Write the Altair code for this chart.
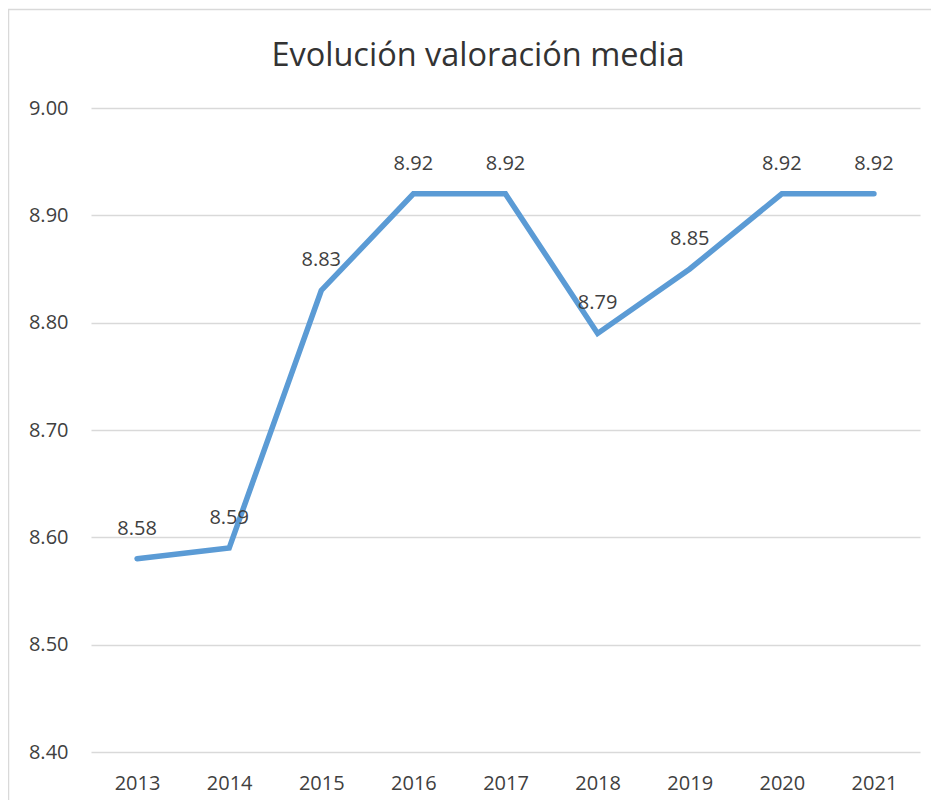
import altair as alt
import pandas as pd

years = ["2013", "2014", "2015", "2016", "2017", "2018", "2019", "2020", "2021"]
values = [8.58, 8.59, 8.83, 8.92, 8.92, 8.79, 8.85, 8.92, 8.92]
y_ticks = [8.4, 8.5, 8.6, 8.7, 8.8, 8.9, 9.0]
title_text = "Evolución valoración media"

df = pd.DataFrame({"year": years, "value": values})

FONT = "Open Sans"
TXT = "#404040"
W, H = 829, 644

x = alt.X("year:N", sort=years, title=None,
          scale=alt.Scale(paddingInner=0, paddingOuter=0.5),
          axis=alt.Axis(labelAngle=0, domain=False, ticks=False, grid=False,
                        labelFontSize=20, labelFont=FONT, labelColor=TXT,
                        labelPadding=21))
y = alt.Y("value:Q", title=None,
          scale=alt.Scale(domain=[8.4, 9.0], nice=False, zero=False),
          axis=alt.Axis(values=y_ticks, format=".2f", domain=False, ticks=False,
                        gridColor="#d9d9d9", gridWidth=1.5,
                        labelFontSize=20, labelFont=FONT, labelColor=TXT,
                        labelPadding=23))

base = alt.Chart(df)
one = base.transform_filter(alt.datum.year == "2013")

border_left = one.mark_rule(color="#d9d9d9", strokeWidth=1.5).encode(
    x=alt.value(-82.5), y=alt.value(-99), y2=alt.value(H + 48))
border_top = one.mark_rule(color="#d9d9d9", strokeWidth=1.5).encode(
    x=alt.value(-83), x2=alt.value(W + 11), y=alt.value(-98.5))

title = one.mark_text(font=FONT, fontSize=32.5, color="#333333", align="center",
                      baseline="alphabetic").encode(
    x=alt.value(387), y=alt.value(-42), text=alt.value(title_text))

line = base.mark_line(color="#5b9bd5", strokeWidth=5.5, strokeCap="round",
                      strokeJoin="miter").encode(x=x, y=y)

labels = base.mark_text(font=FONT, fontSize=20, color=TXT, dy=-24,
                        baseline="alphabetic").encode(
    x=x, y=y, text=alt.Text("value:Q", format=".2f"))

chart = alt.layer(border_left, border_top, title, line, labels).properties(
    width=W, height=H,
    autosize=alt.AutoSizeParams(type="none"),
    padding={"left": 83, "top": 100, "right": 11, "bottom": 48},
).configure_view(stroke=None)

chart.save("out.html", embed_options={"renderer": "svg", "actions": False})
